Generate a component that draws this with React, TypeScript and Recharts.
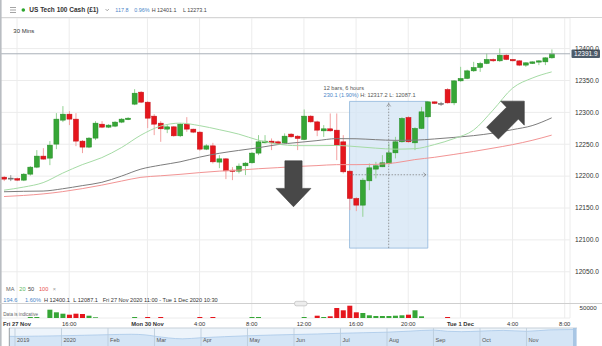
import React from 'react';
import {
  ComposedChart, AreaChart, Area, Bar, Line, XAxis, YAxis, CartesianGrid,
  ReferenceArea, ReferenceLine, ReferenceDot,
} from 'recharts';

const FONT = '"Liberation Sans", Arial, sans-serif';

// ---- 30-minute candles (US Tech 100 Cash) ----
const opens = [12198.4, 12196.9, 12196.1, 12193.7, 12203.1, 12214.1, 12231.4, 12228.2, 12250.2, 12287.8,
  12297.2, 12289.4, 12254.9, 12245.5, 12259.6, 12281.5, 12276.8, 12278.4, 12284.7, 12288.6,
  12312.9, 12331.7, 12316.0, 12294.1, 12283.1, 12273.7, 12277.3, 12263.2, 12281.5, 12273.7,
  12269.0, 12242.3, 12247.5, 12222.0, 12227.1, 12209.4, 12207.8, 12216.2, 12220.9, 12236.1,
  12252.2, 12254.9, 12253.8, 12252.2, 12265.9, 12262.7, 12257.5, 12294.1, 12285.1, 12271.0,
  12274.2, 12272.1, 12253.8, 12207.8, 12165.0, 12154.5, 12192.6, 12211.0, 12214.6, 12219.9,
  12236.5, 12253.8, 12292.0, 12252.2, 12274.8, 12293.0, 12316.5, 12314.0, 12335.9, 12314.9,
  12349.4, 12353.2, 12365.1, 12370.4, 12376.7, 12383.0, 12380.8, 12389.7, 12383.0, 12380.8,
  12374.1, 12376.7, 12378.8, 12379.2, 12385.5];
const highs = [12200.0, 12201.6, 12197.7, 12204.7, 12215.7, 12240.8, 12243.9, 12254.9, 12298.8, 12309.8,
  12301.9, 12298.8, 12256.5, 12261.2, 12286.2, 12286.2, 12281.5, 12286.2, 12291.0, 12292.5,
  12336.4, 12333.3, 12317.6, 12297.2, 12286.2, 12280.0, 12278.4, 12283.1, 12292.5, 12274.5,
  12270.6, 12250.2, 12252.2, 12232.9, 12228.2, 12214.1, 12219.9, 12222.0, 12237.6, 12264.3,
  12264.3, 12259.1, 12255.7, 12267.0, 12267.4, 12264.3, 12304.6, 12295.6, 12287.0, 12280.0,
  12298.3, 12298.3, 12264.3, 12209.4, 12167.1, 12196.9, 12219.9, 12222.4, 12232.9, 12251.3,
  12261.6, 12292.5, 12294.1, 12276.8, 12308.7, 12317.2, 12317.0, 12316.5, 12338.0, 12350.5,
  12371.4, 12367.0, 12379.2, 12379.2, 12392.4, 12384.5, 12400.2, 12391.3, 12383.8, 12381.9,
  12378.5, 12380.0, 12381.9, 12386.5, 12398.7];
const lows = [12192.2, 12192.2, 12192.2, 12192.2, 12200.8, 12212.5, 12225.9, 12217.2, 12242.3, 12284.7,
  12280.0, 12247.0, 12236.1, 12243.9, 12256.5, 12275.3, 12275.3, 12276.8, 12283.1, 12287.8,
  12311.3, 12314.5, 12275.3, 12264.3, 12253.8, 12267.4, 12261.9, 12261.2, 12269.5, 12267.4,
  12239.7, 12240.8, 12219.9, 12212.5, 12195.3, 12193.7, 12204.2, 12201.6, 12219.6, 12232.9,
  12251.3, 12240.8, 12248.6, 12251.3, 12260.4, 12240.8, 12256.5, 12283.9, 12262.7, 12261.6,
  12269.8, 12225.1, 12204.2, 12146.7, 12145.1, 12136.2, 12178.0, 12196.4, 12214.1, 12217.2,
  12227.8, 12252.5, 12252.5, 12240.8, 12273.7, 12291.7, 12313.0, 12310.2, 12313.7, 12311.3,
  12347.9, 12352.1, 12363.5, 12363.5, 12375.6, 12379.2, 12379.2, 12381.9, 12379.9, 12372.5,
  12371.4, 12375.8, 12374.1, 12374.1, 12384.2];
const closes = [12195.3, 12196.9, 12193.7, 12203.1, 12214.1, 12231.4, 12226.7, 12248.6, 12289.4, 12297.2,
  12289.4, 12254.9, 12245.5, 12259.6, 12283.1, 12276.8, 12280.0, 12284.7, 12289.4, 12290.9,
  12330.1, 12316.0, 12290.9, 12281.5, 12274.2, 12277.3, 12263.2, 12281.5, 12273.7, 12269.0,
  12242.3, 12247.5, 12222.4, 12227.1, 12208.3, 12207.4, 12215.7, 12220.4, 12236.1, 12253.8,
  12254.9, 12252.2, 12251.3, 12262.7, 12261.6, 12259.1, 12294.1, 12285.1, 12272.1, 12274.2,
  12271.0, 12248.6, 12206.7, 12165.0, 12154.5, 12193.7, 12213.0, 12216.2, 12220.9, 12236.5,
  12253.8, 12290.5, 12253.8, 12274.8, 12300.8, 12316.5, 12314.0, 12314.0, 12314.9, 12349.4,
  12353.2, 12365.1, 12370.4, 12376.7, 12383.0, 12380.8, 12389.7, 12383.0, 12380.8, 12374.1,
  12377.7, 12379.2, 12380.8, 12385.5, 12391.9];
const volumes = [0, 0, 0, 0, 5000, 5000, 0, 41500, 28500, 21500,
  16500, 21500, 20000, 11500, 3500, 0, 0, 0, 0, 0,
  5000, 0, 5000, 0, 5000, 0, 0, 0, 0, 0,
  5000, 0, 5000, 0, 0, 0, 0, 0, 5000, 5000,
  0, 0, 0, 0, 0, 0, 5000, 0, 11500, 5000,
  8500, 50000, 38500, 61500, 28500, 25000, 13500, 10000, 10000, 10000,
  11500, 13500, 16500, 38500, 8500, 0, 0, 0, 5000, 0,
  0, 0, 0, 0, 0, 0, 0, 0, 0, 0,
  0, 0, 0, 0, 0];

// ---- moving averages, read at every third bar ----
const maIndex = [0, 3, 6, 9, 12, 15, 18, 21, 24, 27, 30, 33, 36, 39, 42, 45, 48, 51, 54, 57, 60, 63, 66, 69, 72, 75, 78, 81, 84];
const ma20 = [12178.0, 12182.8, 12189.8, 12204.7, 12218.0, 12229.0, 12244.7, 12264.3, 12278.4, 12283.1,
  12279.2, 12272.9, 12265.9, 12256.4, 12250.2, 12247.8, 12247.8, 12248.1, 12246.3, 12243.9,
  12242.3, 12243.0, 12249.4, 12258.8, 12272.1, 12303.5, 12338.0, 12353.7, 12363.5];
const ma50 = [12175.5, 12176.2, 12176.6, 12180.2, 12185.1, 12190.3, 12200.0, 12211.0, 12217.2, 12222.4,
  12229.8, 12235.8, 12240.3, 12244.5, 12249.5, 12252.7, 12255.7, 12258.8, 12258.6, 12257.2,
  12256.1, 12256.4, 12258.3, 12260.7, 12263.5, 12267.4, 12272.9, 12279.2, 12291.4];
const ma100 = [12168.0, 12169.7, 12172.1, 12175.7, 12180.4, 12185.9, 12192.2, 12198.1, 12200.5, 12202.8,
  12205.5, 12207.8, 12209.4, 12211.6, 12213.3, 12215.2, 12216.5, 12218.0, 12218.0, 12218.4,
  12220.9, 12225.9, 12229.5, 12234.0, 12238.7, 12243.9, 12249.4, 12256.1, 12264.3];

// ---- axes ----
const timeTicks = [2, 10, 22, 30, 38, 46, 54, 62, 70, 78, 86];
const timeLabels = ['Fri 27 Nov', '16:00', 'Mon 30 Nov', '4:00', '8:00', '12:00', '16:00', '20:00', 'Tue 1 Dec', '4:00', '8:00'];
const dayLabels = ['Fri 27 Nov', 'Mon 30 Nov', 'Tue 1 Dec'];
const priceTicks = [12050, 12100, 12150, 12200, 12250, 12300, 12350, 12400];
const lastPrice = 12391.9;
const volumeTick = 50000;

// ---- measurement tool ----
const measureFrom = 53;
const measureTo = 65;
const measureMid = 59;
const measureHigh = 12317.2;
const measureLow = 12087.1;
const measureLine1 = '12 bars, 6 hours';
const measureChange = '230.1 (1.90%)';
const measureRest = ' H: 12317.2 L: 12087.1';

// ---- drawn arrows (tip positions in bar / price units) ----
const downArrowTip = { i: 44.4, p: 12151.9 };
const upArrowTip = { i: 79.8, p: 12317.6 };

// ---- navigator ----
const navMonths = [-0.13, 0, 0.5, 1, 1.5, 2, 2.5, 2.8, 3, 3.3, 3.6, 4, 4.5, 5, 5.5, 6, 6.5, 7, 7.5, 8, 8.5, 9, 9.3, 9.6, 10, 10.5, 11, 11.5, 12];
const navValues = [8500, 8450, 8600, 8800, 9100, 9400, 9650, 9300, 8600, 7600, 7100, 7700, 8300, 8800, 9200, 9500, 9800, 10200, 10500, 10800, 11400, 12000, 11300, 11100, 11400, 11800, 11300, 12100, 12300];
const navTicks = [0, 1, 2, 3, 4, 5, 6, 7, 8, 9, 10, 11];
const navLabels = ['2019', '2020', 'Feb', 'Mar', 'Apr', 'May', 'Jun', 'Jul', 'Aug', 'Sep', 'Oct', 'Nov'];

const X_DOMAIN: [number, number] = [-0.6135, 86.81];
const P_DOMAIN: [number, number] = [11977.5, 12448];
const V_DOMAIN: [number, number] = [0, 1500000];

const data = opens.map((o, i) => {
  const k = maIndex.indexOf(i);
  return {
    i, o, h: highs[i], l: lows[i], c: closes[i], vol: volumes[i],
    ma20: k >= 0 ? ma20[k] : null,
    ma50: k >= 0 ? ma50[k] : null,
    ma100: k >= 0 ? ma100[k] : null,
  };
});
const navData = navMonths.map((m, k) => ({ m, v: navValues[k] }));

const GREEN = '#36a636';
const GREEN_D = '#238a23';
const GREEN_W = '#94d294';
const RED = '#e5161d';
const RED_D = '#c20f15';
const RED_W = '#f3a0a0';
const BLUE_TXT = '#4a86c8';

function Candle(props: any) {
  const { x, y, width, height, payload } = props;
  if (x == null || y == null || !payload) return null;
  const { o, h, l, c } = payload;
  const top = Math.min(y, y + height);
  const span = Math.abs(height);
  const toY = (v: number) => (h === l ? top : top + ((h - v) / (h - l)) * span);
  const flat = c === o;
  const up = c > o;
  const fill = flat ? '#7a7a7a' : up ? GREEN : RED;
  const stroke = flat ? '#666' : up ? GREEN_D : RED_D;
  const wick = flat ? '#999' : up ? GREEN_W : RED_W;
  const bTop = toY(Math.max(o, c));
  const bBot = toY(Math.min(o, c));
  const cx = x + width / 2;
  return (
    <g>
      <line x1={cx} x2={cx} y1={top} y2={top + span} stroke={wick} strokeWidth={1} />
      <rect x={x} y={bTop} width={width} height={Math.max(1, bBot - bTop)} fill={fill} stroke={stroke} strokeWidth={0.5} />
    </g>
  );
}

function VolBar(props: any) {
  const { x, y, width, height, payload } = props;
  if (x == null || y == null || !payload || !height) return null;
  const up = payload.c >= payload.o;
  return <rect x={x} y={Math.min(y, y + height)} width={width} height={Math.abs(height)} fill={up ? GREEN : RED} />;
}

function TimeTick(props: any) {
  const { x, y, payload } = props;
  const k = timeTicks.indexOf(payload.value);
  const label = k >= 0 ? timeLabels[k] : '';
  const bold = dayLabels.indexOf(label) >= 0;
  return (
    <text x={x} y={y + 8} textAnchor="middle" fontSize={5.8} fontFamily={FONT} fill="#333" fontWeight={bold ? 700 : 400}>
      {label}
    </text>
  );
}

function makeNavLabel(text: string) {
  return function NavLabel(props: any) {
    const vb = props.viewBox || {};
    const x = vb.x || 0;
    const y = (vb.y || 0) + (vb.height || 0);
    return <text x={x + 2} y={y - 4.5} fontSize={5.6} fontFamily={FONT} fill="#555">{text}</text>;
  };
}

function PriceTag(props: any) {
  const vb = props.viewBox || {};
  const x = (vb.x || 0) + (vb.width || 0);
  const y = vb.y || 0;
  return (
    <g>
      <rect x={x + 1.5} y={y - 4.2} width={28.5} height={8.4} fill="#4d5c6b" rx={1} />
      <text x={x + 15.8} y={y + 2.3} textAnchor="middle" fontSize={6.5} fontFamily={FONT} fill="#fff">{lastPrice.toFixed(1)}</text>
    </g>
  );
}

function VolLabel(props: any) {
  const vb = props.viewBox || {};
  const x = (vb.x || 0) + (vb.width || 0);
  const y = vb.y || 0;
  return <text x={x + 9.5} y={y + 2.2} fontSize={6.2} fontFamily={FONT} fill="#333">{String(volumeTick)}</text>;
}

function DownArrow(props: any) {
  const { cx, cy } = props;
  const pts = [
    [cx - 8.6, cy - 46], [cx + 8.6, cy - 46], [cx + 8.6, cy - 18.4], [cx + 17.4, cy - 18.4],
    [cx, cy], [cx - 17.4, cy - 18.4], [cx - 8.6, cy - 18.4],
  ].map((p) => p.join(',')).join(' ');
  return <polygon points={pts} fill="#484848" stroke="#3a3a3a" strokeWidth={0.6} />;
}

function UpArrow(props: any) {
  const { cx, cy } = props;
  const rel = [[0, 0], [0, 24], [-5.9, 17.9], [-25.9, 37.9], [-37.7, 26.1], [-17.7, 6.1], [-23.6, 0]];
  const pts = rel.map(([dx, dy]) => `${cx + dx},${cy + dy}`).join(' ');
  return <polygon points={pts} fill="#484848" stroke="#3a3a3a" strokeWidth={0.6} />;
}

function MeasureText(props: any) {
  const { cx, cy } = props;
  return (
    <g fontFamily={FONT} fontSize={5.6}>
      <text x={cx - 26} y={cy - 11} fill="#555">{measureLine1}</text>
      <text x={cx - 26} y={cy - 4.5}>
        <tspan fill={BLUE_TXT}>{measureChange}</tspan>
        <tspan fill="#555">{measureRest}</tspan>
      </text>
    </g>
  );
}

function UpChevron(props: any) {
  const { cx, cy } = props;
  return <polyline points={`${cx - 2},${cy + 5} ${cx},${cy + 2.5} ${cx + 2},${cy + 5}`} fill="none" stroke="#777" strokeWidth={0.7} />;
}

function RightChevron(props: any) {
  const { cx, cy } = props;
  return <polyline points={`${cx - 4.5},${cy - 2} ${cx - 2},${cy} ${cx - 4.5},${cy + 2}`} fill="none" stroke="#777" strokeWidth={0.7} />;
}

export default function App() {
  return (
    <div style={{ position: 'absolute', left: 0, top: 0, width: 602, height: 346, background: '#fff', overflow: 'hidden', fontFamily: FONT }}>
      <div style={{ position: 'absolute', left: 0, top: 0 }}>
        <ComposedChart width={602} height={328} data={data} margin={{ top: 18, right: 0, bottom: 0, left: 0 }}>
          <CartesianGrid xAxisId="m" yAxisId="p" stroke="#ececec" strokeWidth={1} />
          <XAxis xAxisId="m" dataKey="i" type="number" domain={X_DOMAIN} allowDataOverflow ticks={timeTicks} interval={0}
            tick={<TimeTick />} axisLine={false} tickLine={false} tickSize={0} tickMargin={0} height={10} />
          <XAxis xAxisId="v" dataKey="i" type="number" domain={X_DOMAIN} allowDataOverflow hide />
          <YAxis yAxisId="p" orientation="right" domain={P_DOMAIN} allowDataOverflow ticks={priceTicks} interval={0}
            tickFormatter={(v: number) => v.toFixed(1)} width={32} axisLine={false} tickLine={false} tickSize={0} tickMargin={5}
            tick={{ fontSize: 6.6, fill: '#333', fontFamily: FONT }} />
          <YAxis yAxisId="vol" domain={V_DOMAIN} allowDataOverflow hide />

          <ReferenceArea xAxisId="m" yAxisId="p" x1={measureFrom} x2={measureTo} y1={measureLow} y2={measureHigh}
            fill="#d3e4f4" fillOpacity={0.75} stroke="#8fb6dc" strokeWidth={0.8} />
          <ReferenceLine xAxisId="m" yAxisId="p" segment={[{ x: measureMid, y: measureLow }, { x: measureMid, y: measureHigh }]}
            stroke="#777" strokeDasharray="1.5 1.5" strokeWidth={0.7} />
          <ReferenceLine xAxisId="m" yAxisId="p" segment={[{ x: measureFrom, y: (measureHigh + measureLow) / 2 }, { x: measureTo, y: (measureHigh + measureLow) / 2 }]}
            stroke="#777" strokeDasharray="1.5 1.5" strokeWidth={0.7} />
          <ReferenceDot xAxisId="m" yAxisId="p" x={measureMid} y={measureHigh} shape={<UpChevron />} />
          <ReferenceDot xAxisId="m" yAxisId="p" x={measureTo} y={(measureHigh + measureLow) / 2} shape={<RightChevron />} />

          <ReferenceLine xAxisId="m" yAxisId="p" y={lastPrice} stroke="#a9b1b9" strokeWidth={1} label={<PriceTag />} />
          <ReferenceLine xAxisId="v" yAxisId="vol" y={volumeTick} stroke="none" label={<VolLabel />} />

          <Line xAxisId="m" yAxisId="p" dataKey="ma100" type="monotone" stroke="#f29494" strokeWidth={1} dot={false} connectNulls isAnimationActive={false} />
          <Line xAxisId="m" yAxisId="p" dataKey="ma50" type="monotone" stroke="#7d7d7d" strokeWidth={1} dot={false} connectNulls isAnimationActive={false} />
          <Line xAxisId="m" yAxisId="p" dataKey="ma20" type="monotone" stroke="#a5dba5" strokeWidth={1} dot={false} connectNulls isAnimationActive={false} />

          <Bar xAxisId="v" yAxisId="vol" dataKey="vol" barSize={5} shape={<VolBar />} isAnimationActive={false} />
          <Bar xAxisId="m" yAxisId="p" dataKey={(d: any) => [d.l, d.h]} barSize={5} shape={<Candle />} isAnimationActive={false} />

          <ReferenceDot xAxisId="m" yAxisId="p" x={measureFrom} y={measureHigh} shape={<MeasureText />} />
          <ReferenceDot xAxisId="m" yAxisId="p" x={downArrowTip.i} y={downArrowTip.p} shape={<DownArrow />} />
          <ReferenceDot xAxisId="m" yAxisId="p" x={upArrowTip.i} y={upArrowTip.p} shape={<UpArrow />} />
        </ComposedChart>
      </div>

      <div style={{ position: 'absolute', left: 9, top: 328 }}>
        <AreaChart width={564} height={18} data={navData} margin={{ top: 0, right: 0, bottom: 0, left: 0 }}>
          <CartesianGrid fill="#edf4fb" horizontal={false} vertical={false} />
          <XAxis dataKey="m" type="number" domain={[-0.129, 12]} allowDataOverflow hide />
          <YAxis domain={[3100, 13140]} allowDataOverflow hide />
          <Area dataKey="v" type="monotone" stroke="#a8c8e8" strokeWidth={0.8} fill="#d4e5f6" fillOpacity={1} isAnimationActive={false} />
          {navTicks.map((m, k) => (
            <ReferenceLine key={m} x={m} stroke="#b8c9da" strokeWidth={0.8} label={React.createElement(makeNavLabel(navLabels[k]))} />
          ))}
        </AreaChart>
      </div>

      <svg width={602} height={346} style={{ position: 'absolute', left: 0, top: 0, pointerEvents: 'none' }} fontFamily={FONT}>
        {/* header */}
        <line x1={0} x2={602} y1={17.5} y2={17.5} stroke="#d6d6d6" strokeWidth={1} />
        <line x1={10} x2={16} y1={7.5} y2={7.5} stroke="#9a9a9a" strokeWidth={0.9} />
        <line x1={10} x2={16} y1={10} y2={10} stroke="#9a9a9a" strokeWidth={0.9} />
        <line x1={10} x2={16} y1={12.5} y2={12.5} stroke="#9a9a9a" strokeWidth={0.9} />
        <circle cx={23.3} cy={10} r={1.8} fill="#2da52d" />
        <text x={29.3} y={12.3} fontSize={6.5} fontWeight={700} fill="#333">US Tech 100 Cash (£1)</text>
        <polyline points="105.5,9 107.2,10.8 108.9,9" fill="none" stroke="#888" strokeWidth={0.7} />
        <text x={115.3} y={12} fontSize={5.4} fill={BLUE_TXT}>117.8</text>
        <text x={134.3} y={12} fontSize={5.4} fill={BLUE_TXT}>0.96%</text>
        <text x={151.7} y={12} fontSize={5.4} fill="#444">H 12401.1</text>
        <text x={183} y={12} fontSize={5.4} fill="#444">L 12273.1</text>
        <text x={13.3} y={33.2} fontSize={6} fill="#333">30 Mins</text>

        {/* left border */}
        <rect x={0} y={0} width={1.6} height={346} fill="#b9bdc2" />

        {/* panel divider */}
        <line x1={0} x2={602} y1={303.5} y2={303.5} stroke="#cfcfcf" strokeWidth={1} />
        <rect x={294.5} y={301.3} width={12.5} height={4.6} rx={2} fill="#ececec" stroke="#b5b5b5" strokeWidth={0.6} />

        {/* MA legend */}
        <g fontSize={5.6}>
          <text x={6} y={291.3} fill="#666">MA</text>
          <text x={19.3} y={291.3} fill="#5cb85c">20</text>
          <text x={28} y={291.3} fill="#444">50</text>
          <text x={39} y={291.3} fill="#e8534f">100</text>
          <text x={52.7} y={291.3} fill="#999">×</text>
        </g>
        <g fontSize={5.6}>
          <text x={3.3} y={301.6} fill={BLUE_TXT}>194.6</text>
          <text x={25} y={301.6} fill={BLUE_TXT}>1.60%</text>
          <text x={44} y={301.6} fill="#333">H 12400.1</text>
          <text x={73.3} y={301.6} fill="#333">L 12087.1</text>
          <text x={102.7} y={301.6} fill="#333">Fri 27 Nov 2020 11:00 - Tue 1 Dec 2020 10:30</text>
        </g>
        <text x={3.3} y={316} fontSize={4.6} fill="#666">Data is indicative</text>

        {/* navigator frame */}
        <line x1={9} x2={577} y1={328} y2={328} stroke="#c6cfd8" strokeWidth={1} />
        <line x1={9.3} x2={9.3} y1={328} y2={346} stroke="#9aa0a6" strokeWidth={1} />
        <rect x={573} y={328} width={3.6} height={18} fill="#a8c6e4" />
      </svg>
    </div>
  );
}
